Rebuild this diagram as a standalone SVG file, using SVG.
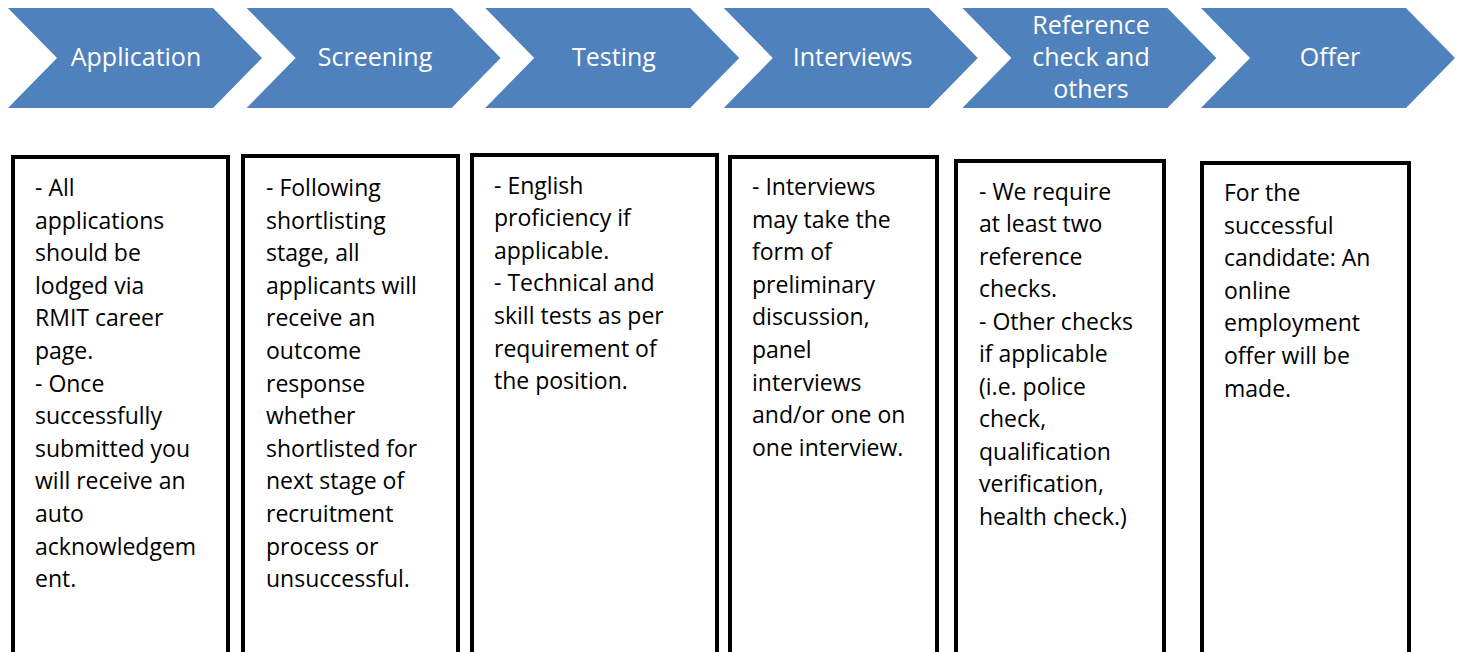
<svg xmlns="http://www.w3.org/2000/svg" width="1465" height="652" viewBox="0 0 1465 652">
<style>
.chev{fill:#4F81BD;}
.ct{font-family:"Open Sans","Noto Sans",sans-serif;font-size:25px;fill:#FFFFFF;text-anchor:middle;}
.box{fill:#FFFFFF;stroke:#000000;stroke-width:4;}
.bt{font-family:"Open Sans","Noto Sans",sans-serif;font-size:23px;fill:#000000;}
</style>
<rect width="1465" height="652" fill="#FFFFFF"/>
<g id="chevrons">
<g id="chev-application"><polygon class="chev" points="8,8 213,8 262,58 213,108 8,108 57,58"/><text class="ct" x="136" y="66">Application</text></g>
<g id="chev-screening"><polygon class="chev" points="246.6,8 451.6,8 500.6,58 451.6,108 246.6,108 295.6,58"/><text class="ct" x="375" y="66">Screening</text></g>
<g id="chev-testing"><polygon class="chev" points="485.2,8 690.2,8 739.2,58 690.2,108 485.2,108 534.2,58"/><text class="ct" x="614" y="66">Testing</text></g>
<g id="chev-interviews"><polygon class="chev" points="723.8,8 928.8,8 977.8,58 928.8,108 723.8,108 772.8,58"/><text class="ct" x="852.5" y="66">Interviews</text></g>
<g id="chev-reference"><polygon class="chev" points="962.4,8 1167.4,8 1216.4,58 1167.4,108 962.4,108 1011.4,58"/><text class="ct" x="1091" y="34">Reference</text><text class="ct" x="1091" y="66">check and</text><text class="ct" x="1091" y="98">others</text></g>
<g id="chev-offer"><polygon class="chev" points="1201,8 1406,8 1455,58 1406,108 1201,108 1250,58"/><text class="ct" x="1330" y="66">Offer</text></g>
</g>
<g id="connectors"></g>
<g id="box-application"><rect class="box" x="13" y="157" width="215" height="560"/>
<text class="bt" y="196"><tspan x="35">- All</tspan><tspan x="35" dy="32.6">applications</tspan><tspan x="35" dy="32.6">should be</tspan><tspan x="35" dy="32.6">lodged via</tspan><tspan x="35" dy="32.6">RMIT career</tspan><tspan x="35" dy="32.6">page.</tspan><tspan x="35" dy="32.6">- Once</tspan><tspan x="35" dy="32.6">successfully</tspan><tspan x="35" dy="32.6">submitted you</tspan><tspan x="35" dy="32.6">will receive an</tspan><tspan x="35" dy="32.6">auto</tspan><tspan x="35" dy="32.6">acknowledgem</tspan><tspan x="35" dy="32.6">ent.</tspan></text></g>
<g id="box-screening"><rect class="box" x="243" y="156" width="215" height="560"/>
<text class="bt" y="196"><tspan x="266">- Following</tspan><tspan x="266" dy="32.6">shortlisting</tspan><tspan x="266" dy="32.6">stage, all</tspan><tspan x="266" dy="32.6">applicants will</tspan><tspan x="266" dy="32.6">receive an</tspan><tspan x="266" dy="32.6">outcome</tspan><tspan x="266" dy="32.6">response</tspan><tspan x="266" dy="32.6">whether</tspan><tspan x="266" dy="32.6">shortlisted for</tspan><tspan x="266" dy="32.6">next stage of</tspan><tspan x="266" dy="32.6">recruitment</tspan><tspan x="266" dy="32.6">process or</tspan><tspan x="266" dy="32.6">unsuccessful.</tspan></text></g>
<g id="box-testing"><rect class="box" x="472" y="155" width="245" height="560"/>
<text class="bt" y="193.5"><tspan x="494">- English</tspan><tspan x="494" dy="32.6">proficiency if</tspan><tspan x="494" dy="32.6">applicable.</tspan><tspan x="494" dy="32.6">- Technical and</tspan><tspan x="494" dy="32.6">skill tests as per</tspan><tspan x="494" dy="32.6">requirement of</tspan><tspan x="494" dy="32.6">the position.</tspan></text></g>
<g id="box-interviews"><rect class="box" x="730" y="157" width="207" height="560"/>
<text class="bt" y="195"><tspan x="752">- Interviews</tspan><tspan x="752" dy="32.6">may take the</tspan><tspan x="752" dy="32.6">form of</tspan><tspan x="752" dy="32.6">preliminary</tspan><tspan x="752" dy="32.6">discussion,</tspan><tspan x="752" dy="32.6">panel</tspan><tspan x="752" dy="32.6">interviews</tspan><tspan x="752" dy="32.6">and/or one on</tspan><tspan x="752" dy="32.6">one interview.</tspan></text></g>
<g id="box-reference"><rect class="box" x="956" y="161" width="208" height="560"/>
<text class="bt" y="199.5"><tspan x="979">- We require</tspan><tspan x="979" dy="32.5">at least two</tspan><tspan x="979" dy="32.5">reference</tspan><tspan x="979" dy="32.5">checks.</tspan><tspan x="979" dy="32.5">- Other checks</tspan><tspan x="979" dy="32.5">if applicable</tspan><tspan x="979" dy="32.5">(i.e. police</tspan><tspan x="979" dy="32.5">check,</tspan><tspan x="979" dy="32.5">qualification</tspan><tspan x="979" dy="32.5">verification,</tspan><tspan x="979" dy="32.5">health check.)</tspan></text></g>
<g id="box-offer"><rect class="box" x="1202" y="163" width="207" height="560"/>
<text class="bt" y="201"><tspan x="1224">For the</tspan><tspan x="1224" dy="32.6">successful</tspan><tspan x="1224" dy="32.6">candidate: An</tspan><tspan x="1224" dy="32.6">online</tspan><tspan x="1224" dy="32.6">employment</tspan><tspan x="1224" dy="32.6">offer will be</tspan><tspan x="1224" dy="32.6">made.</tspan></text></g>
</svg>
